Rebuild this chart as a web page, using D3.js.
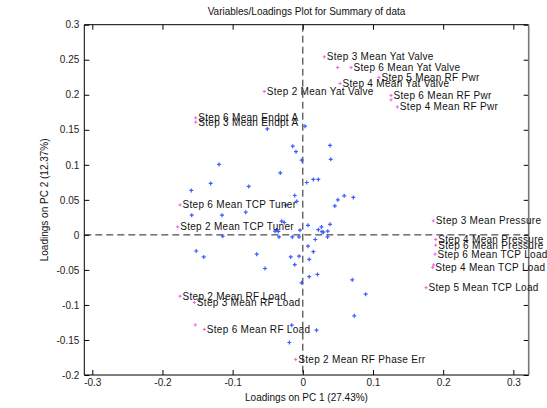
<!DOCTYPE html>
<html>
<head>
<meta charset="utf-8">
<script src="https://cdn.jsdelivr.net/npm/d3@7"></script>
<style>
  html, body { margin: 0; padding: 0; background: #fff; }
  svg { display: block; font-family: "Liberation Sans", Arial, Helvetica, sans-serif; }
</style>
</head>
<body>
<svg id="chart" width="547" height="408"></svg>
<script>
// ---- data ----
const xTicks = [-0.3, -0.2, -0.1, 0, 0.1, 0.2, 0.3];
const xTickLabels = ["-0.3", "-0.2", "-0.1", "0", "0.1", "0.2", "0.3"];
const yTicks = [-0.2, -0.15, -0.1, -0.05, 0, 0.05, 0.1, 0.15, 0.2, 0.25, 0.3];
const yTickLabels = ["-0.2", "-0.15", "-0.1", "-0.05", "0", "0.05", "0.1", "0.15", "0.2", "0.25", "0.3"];

const blueX = [-0.0506, 0.0031, -0.0144, -0.0097, 0.0388, 0.0398, -0.0016, -0.1194, -0.0321, 0.0056,
  0.0150, 0.0221, -0.1313, -0.0771, -0.1589, 0.0590, -0.0115, 0.0499, -0.0087, 0.0456,
  0.0720, -0.0814, -0.1583, -0.1151, -0.0301, -0.0264, 0.0074, 0.0388, 0.0266, -0.0372,
  -0.0396, -0.0349, 0.0221, 0.0274, 0.0292, 0.0355, -0.0040, -0.1142, -0.0339, -0.0150,
  -0.0054, 0.0177, 0.0352, 0.0074, -0.1519, -0.1412, -0.0657, -0.0172, -0.0054, 0.0150,
  0.0091, -0.0115, -0.0539, 0.0091, 0.0209, -0.0019, 0.0705, 0.0896, 0.0734, 0.0195,
  -0.0158, -0.0192, -0.0244];
const blueY = [0.1513, 0.1552, 0.1266, 0.1188, 0.1277, 0.1078, 0.1066, 0.1005, 0.0885, 0.0748,
  0.0792, 0.0792, 0.0734, 0.0691, 0.0634, 0.0557, 0.0562, 0.0500, 0.0477, 0.0413,
  0.0534, 0.0324, 0.0281, 0.0281, 0.0196, 0.0177, 0.0136, 0.0150, 0.0114, 0.0067,
  0.0053, 0.0049, 0.0074, 0.0046, 0.0039, 0.0053, 0.0067, -0.0019, -0.0029, -0.0029,
  -0.0029, -0.0066, -0.0029, -0.0161, -0.0230, -0.0315, -0.0275, -0.0315, -0.0304, -0.0240,
  -0.0350, -0.0425, -0.0480, -0.0597, -0.0565, -0.0685, -0.0642, -0.0846, -0.1156, -0.1360,
  -0.1289, -0.1536, 0.0424];

const labelNames = ["Step 3 Mean Yat Valve", "Step 6 Mean Yat Valve", "Step 5 Mean RF Pwr",
  "Step 4 Mean Yat Valve", "Step 2 Mean Yat Valve", "Step 6 Mean RF Pwr", "Step 4 Mean RF Pwr",
  "Step 6 Mean Endpt A", "Step 3 Mean Endpt A", "Step 6 Mean TCP Tuner", "Step 2 Mean TCP Tuner",
  "Step 3 Mean Pressure", "Step 4 Mean Pressure", "Step 6 Mean Pressure", "Step 6 Mean TCP Load",
  "Step 4 Mean TCP Load", "Step 5 Mean TCP Load", "Step 2 Mean RF Load", "Step 3 Mean RF Load",
  "Step 6 Mean RF Load", "Step 2 Mean RF Phase Err"];
const labelX = [0.0306, 0.0687, 0.1086, 0.0530, -0.0549, 0.1257, 0.1347, -0.1526, -0.1526, -0.1750,
  -0.1783, 0.1860, 0.1894, 0.1894, 0.1884, 0.1851, 0.1756, -0.1750, -0.1546, -0.1404, -0.0101];
const labelY = [0.2541, 0.2389, 0.2247, 0.2161, 0.2047, 0.1990, 0.1827, 0.1670, 0.1609, 0.0428,
  0.0114, 0.0200, -0.0066, -0.0147, -0.0275, -0.0465, -0.0754, -0.0875, -0.0965, -0.1350, -0.1778];

const extraMagX = [0.0497, 0.1257, -0.1532, 0.1862];
const extraMagY = [0.2389, 0.1927, -0.1285, -0.0430];

// ---- layout ----
const svg = d3.select("#chart");
const L = 84.3, R = 528.7, T = 24.7, B = 375;
const x = d3.scaleLinear().domain([-0.3114, 0.3219]).range([L, R]);
const y = d3.scaleLinear().domain([-0.2, 0.3]).range([B, T]);

const fontSize = 10;

// axes
const gx = svg.append("g").attr("transform", `translate(0,${B})`)
  .call(d3.axisBottom(x).tickValues(xTicks).tickFormat((d, i) => xTickLabels[i])
    .tickSizeInner(-5).tickSizeOuter(0).tickPadding(4));
const gxTop = svg.append("g").attr("transform", `translate(0,${T})`)
  .call(d3.axisTop(x).tickValues(xTicks).tickFormat("").tickSizeInner(-5).tickSizeOuter(0));
const gy = svg.append("g").attr("transform", `translate(${L},0)`)
  .call(d3.axisLeft(y).tickValues(yTicks).tickFormat((d, i) => yTickLabels[i])
    .tickSizeInner(-5).tickSizeOuter(0).tickPadding(5));
const gyR = svg.append("g").attr("transform", `translate(${R},0)`)
  .call(d3.axisRight(y).tickValues(yTicks).tickFormat("").tickSizeInner(-5).tickSizeOuter(0));

[gx, gxTop, gy, gyR].forEach(g => {
  g.select(".domain").remove();
  g.selectAll("line").attr("stroke", "#000");
  g.selectAll("text").attr("fill", "#222").style("font-size", fontSize + "px")
    .style("font-family", '"Liberation Sans", Arial, sans-serif');
});

// box
svg.append("line").attr("x1", L).attr("x2", R).attr("y1", T).attr("y2", T).attr("stroke", "#000");
svg.append("line").attr("x1", L).attr("x2", R).attr("y1", B).attr("y2", B).attr("stroke", "#000");
svg.append("line").attr("x1", L).attr("x2", L).attr("y1", T).attr("y2", B).attr("stroke", "#000");
svg.append("line").attr("x1", R).attr("x2", R).attr("y1", T).attr("y2", B).attr("stroke", "#777").attr("stroke-width", 1.6);

// dashed zero lines
svg.append("line").attr("x1", L).attr("x2", R).attr("y1", y(0)).attr("y2", y(0))
  .attr("stroke", "#222").attr("stroke-dasharray", "7,4");
svg.append("line").attr("x1", x(0)).attr("x2", x(0)).attr("y1", T).attr("y2", B)
  .attr("stroke", "#222").attr("stroke-dasharray", "7,4");

// plus marker path
const plus = (cx, cy, r) => `M${cx - r},${cy}H${cx + r}M${cx},${cy - r}V${cy + r}`;

// blue points
svg.append("g").selectAll("path").data(blueX.map((v, i) => [v, blueY[i]])).join("path")
  .attr("d", d => plus(x(d[0]), y(d[1]), 2))
  .attr("stroke", "#3c5cff").attr("stroke-width", 1.2).attr("fill", "none");

// magenta points
const magPts = labelX.map((v, i) => [v, labelY[i]]).concat(extraMagX.map((v, i) => [v, extraMagY[i]]));
svg.append("g").selectAll("path").data(magPts).join("path")
  .attr("d", d => plus(x(d[0]), y(d[1]), 1.6))
  .attr("stroke", "#f25cf2").attr("stroke-width", 1).attr("fill", "none");

// labels
svg.append("g").selectAll("text").data(labelNames).join("text")
  .attr("x", (d, i) => x(labelX[i]) + 2.5)
  .attr("y", (d, i) => y(labelY[i]))
  .attr("dy", "0.35em")
  .attr("fill", "#111")
  .style("font-size", fontSize + "px")
  .style("letter-spacing", "0.3px")
  .text(d => d);

// title and axis labels
svg.append("text").attr("x", (L + R) / 2).attr("y", 15).attr("text-anchor", "middle")
  .attr("fill", "#111").style("font-size", "10px").text("Variables/Loadings Plot for Summary of data");
svg.append("text").attr("x", (L + R) / 2).attr("y", 401).attr("text-anchor", "middle")
  .attr("fill", "#111").style("font-size", "10px").text("Loadings on PC 1 (27.43%)");
svg.append("text").attr("transform", `translate(48,${(T + B) / 2}) rotate(-90)`).attr("text-anchor", "middle")
  .attr("fill", "#111").style("font-size", "10px").text("Loadings on PC 2 (12.37%)");
</script>
</body>
</html>
